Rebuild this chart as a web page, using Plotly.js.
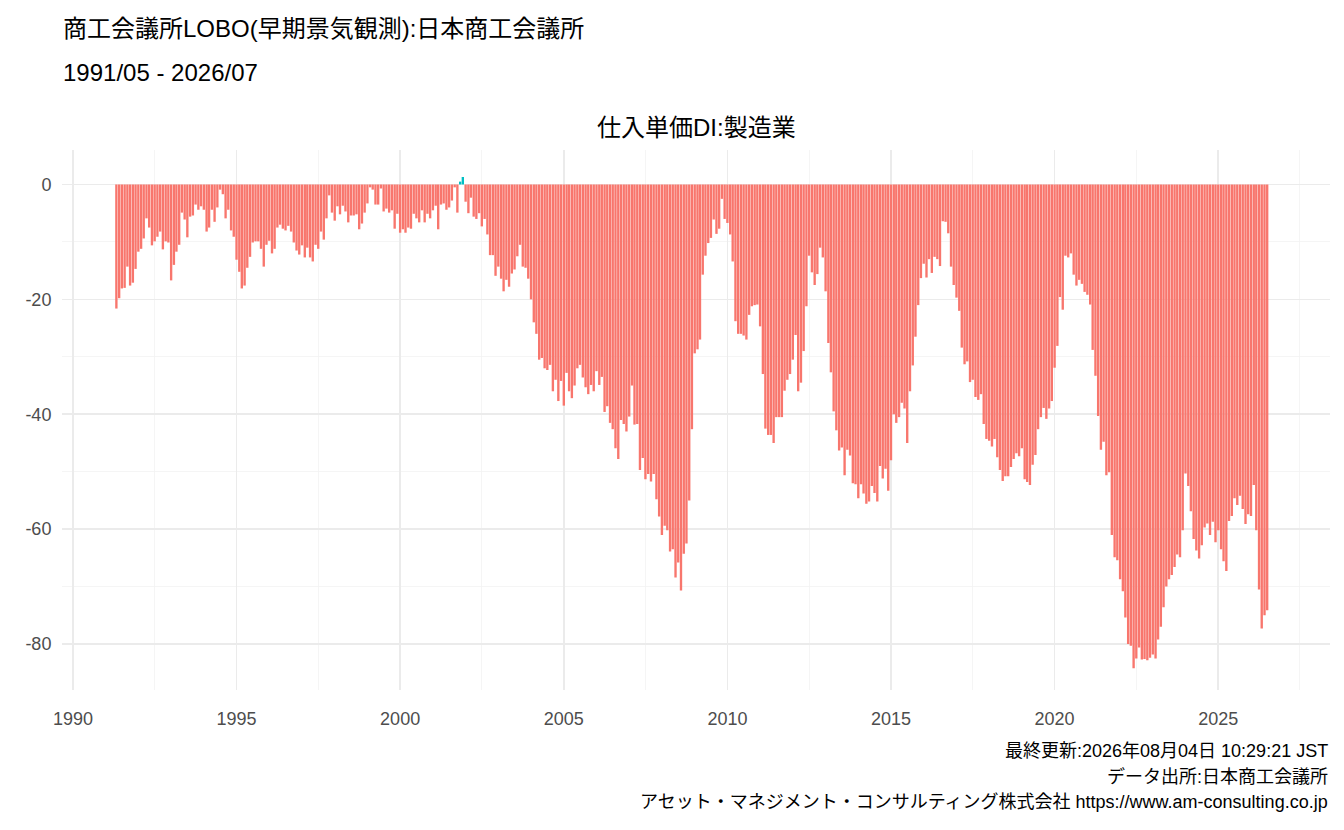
<!DOCTYPE html>
<html>
<head>
<meta charset="utf-8">
<script src="https://cdn.plot.ly/plotly-3.0.1.min.js"></script>
<style>body{margin:0;background:#fff}#chart{width:1344px;height:830px}</style>
</head>
<body>
<div id="chart"></div>
<script>
// 仕入単価DI:製造業, monthly from 1991/05
const startYear = 1991, startMonth = 5;

const di1991to2001 = [
  -21.6,-19.8,-18.1,-18,-14.3,-17.6,-17.1,-14.7,-11.7,-11.2,
  -9.4,-5.9,-7.5,-10.6,-9.9,-9.1,-8.2,-11.3,-9.9,-10.1,
  -16.7,-14,-11.7,-10.5,-4.9,-6.1,-9.2,-5.6,-5.4,-3.5,
  -4.4,-3.8,-4.4,-8.2,-7.5,-4.4,-6.5,-4,-0.9,-1.7,
  -5.9,-4.4,-8,-9.1,-13.1,-15.2,-18.1,-17.6,-14.5,-12.6,
  -10.1,-9.9,-9.9,-11.2,-14.3,-10.5,-9.8,-12,-11.2,-7.5,
  -7,-7.7,-8,-7.2,-8.2,-10.1,-11.5,-12.2,-10.6,-12.7,
  -11,-12.7,-13.4,-10.5,-11.2,-8.2,-9.6,-5.9,-1.9,-4.9,
  -6.3,-3.8,-5.2,-3.7,-4.7,-6.6,-5.4,-5.4,-5.2,-7.8,
  -6.8,-4.9,-3.3,-0.5,-0.9,-3.5,-3.5,-0.7,-4.7,-4.2,
  -4.9,-4.5,-7.7,-5.1,-8.4,-7.8,-8.4,-7.5,-7.7,-5.1,
  -5.9,-6.6,-4.5,-6.6,-5.1,-5.9,-4.5,-3.7,-7.8,-3.5,
  -3.3,-4.4,-4,-2.8,-0.5,-4.9,
  0.5,1.3
];

const di2002to2010 = [
  -3,-5,-2.3,-5.6,-6,-5,-7.3,-6,-8.7,-12.3,
  -12.3,-15.9,-14.3,-16.4,-18.6,-16.6,-17.8,-15.5,-14.8,-12.5,
  -10.5,-14.3,-14.5,-16.4,-20,-24,-26,-30.5,-30.2,-32,
  -32.3,-31.4,-36,-34,-37.7,-34.2,-38.5,-32.8,-36,-37.2,
  -35,-32,-31.4,-33.6,-35.3,-36.5,-34.9,-36,-32.5,-34.9,
  -33.5,-39.6,-38.6,-41.5,-42.6,-45.9,-47.8,-41,-41.7,-43,
  -40.4,-35,-41.8,-41.7,-49.7,-47.6,-51.3,-50.4,-51.7,-50.4,
  -54.8,-57.8,-61,-59.4,-60.2,-63.9,-63.5,-68.4,-65.8,-70.7,
  -64.3,-62.5,-55,-42.6,-29.4,-28.7,-27,-15.7,-12.4,-10.2,
  -9.3,-6.1,-8.6,-7.7,-2.5,-6,-6.7,-8.7,-13.4,-23.8,
  -26,-26,-26.3,-27,-22.7,-21.2,-21,-20.9
];

const di2011to2018 = [
  -24.7,-33,-42.5,-43.6,-43.6,-45,-40.5,-40.5,-40.5,-35.9,
  -34,-33,-30.5,-26.2,-36,-34.5,-29,-21.2,-12.4,-15.3,
  -17.5,-15.6,-11,-12.7,-18.6,-27.6,-32.7,-39.5,-42.8,-46.3,
  -45.8,-50.6,-46.2,-47.2,-52,-52.2,-54.6,-52.2,-53.8,-55.6,
  -55.2,-52.5,-53.7,-55.2,-49,-51.2,-49.5,-53.3,-48,-40,
  -41.5,-40.5,-38,-39,-45,-36,-31.5,-26.5,-21,-16.3,
  -13.8,-16.2,-13,-15.4,-12.6,-13,-14.2,-6.4,-6.5,-8.5,
  -14.3,-17.5,-19.7,-22,-28.4,-31.3,-30.8,-34.4,-34,-37,
  -37.5,-36.5,-41.7,-44.3,-44.6,-45.6,-44.3,-47.5
];

const di2018to2026 = [
  -49.7,-51.6,-50.8,-50.8,
  -49.2,-47.8,-46.8,-47.3,-45.9,-51.3,-51.8,-52.3,-48.8,-47.1,
  -42.6,-40.5,-38.9,-40.8,-39,-37.7,-31.9,-28.1,-19.6,-21.8,
  -12.4,-12.7,-12,-15.7,-17.6,-16.6,-17.3,-18.7,-19.2,-20.9,
  -28.8,-33.3,-40.3,-46.2,-44.8,-50.6,-50.1,-61,-64.9,-65.4,
  -68.7,-70.8,-75.4,-80,-80.3,-84.2,-82.5,-80.6,-82.7,-82.6,
  -82.8,-82.4,-81.8,-82.5,-79.2,-77,-73.6,-70,-68.7,-68,
  -66.6,-64.4,-64.9,-60.2,-50.3,-52.5,-56.9,-61.7,-63.7,-65.1,
  -62.8,-59.7,-59,-61,-58.7,-62.3,-60.2,-63.5,-65.6,-67.3,
  -58.6,-57.7,-54.6,-55.8,-54.2,-56.5,-59.1,-57.4,-57.7,-52.3,
  -60.2,-70.5,-77.3,-75,-74.1
];

const yTicks = [0, -20, -40, -60, -80];
const xTickYears = [1990, 1995, 2000, 2005, 2010, 2015, 2020, 2025];

const values = [].concat(di1991to2001, di2002to2010, di2011to2018, di2018to2026);
const dates = values.map((v, i) => {
  const m = startMonth - 1 + i;
  const y = startYear + Math.floor(m / 12);
  const mm = String(m % 12 + 1).padStart(2, '0');
  return `${y}-${mm}-01`;
});

const trace = {
  x: dates,
  y: values,
  type: 'bar',
  marker: { color: values.map(v => v >= 0 ? '#00BFC4' : '#F8766D') },
  hoverinfo: 'x+y'
};

const font = 'Liberation Sans, Noto Sans CJK JP, sans-serif';

function note(text, yPx, size, anchor) {
  // position in paper pixels from top of the figure
  return {
    text: text, xref: 'paper', yref: 'paper',
    x: anchor === 'left' ? -0.001 : 1, y: 1, yshift: 150 - yPx,
    showarrow: false, font: { size: size, color: '#000' },
    xanchor: anchor, yanchor: 'middle'
  };
}

const layout = {
  width: 1344,
  height: 830,
  paper_bgcolor: '#ffffff',
  plot_bgcolor: '#ffffff',
  font: { family: font, color: '#000' },
  showlegend: false,
  bargap: 0.06,
  margin: { t: 150, r: 14, l: 62, b: 140 },
  xaxis: {
    type: 'date',
    range: ['1989-09-01', '2028-06-01'],
    tickvals: xTickYears.map(y => `${y}-01-01`),
    ticktext: xTickYears.map(String),
    tickfont: { size: 18, color: '#4d4d4d' },
    showgrid: true, gridcolor: '#ebebeb', gridwidth: 1.6,
    minor: { dtick: 'M30', tick0: '1987-07-01', showgrid: true, gridcolor: '#f3f3f3', gridwidth: 0.8 },
    zeroline: false, showline: false, ticks: 'outside', ticklen: 12, tickcolor: 'rgba(0,0,0,0)'
  },
  yaxis: {
    range: [-88, 6],
    tickvals: yTicks,
    ticktext: yTicks.map(String),
    tickfont: { size: 18, color: '#4d4d4d' },
    showgrid: true, gridcolor: '#ebebeb', gridwidth: 1.6,
    minor: { dtick: 10, showgrid: true, gridcolor: '#f3f3f3', gridwidth: 0.8 },
    zeroline: false, showline: false, ticks: 'outside', ticklen: 6, tickcolor: 'rgba(0,0,0,0)'
  },
  annotations: [
    note('商工会議所LOBO(早期景気観測):日本商工会議所', 28, 24, 'left'),
    note('1991/05 - 2026/07', 72, 24, 'left'),
    { text: '仕入単価DI:製造業', xref: 'paper', yref: 'paper', x: 0.5, y: 1, yshift: 23,
      showarrow: false, font: { size: 24, color: '#000' }, xanchor: 'center', yanchor: 'middle' },
    note('最終更新:2026年08月04日 10:29:21 JST', 751, 18, 'right'),
    note('データ出所:日本商工会議所', 777, 18, 'right'),
    note('アセット・マネジメント・コンサルティング株式会社 https://www.am-consulting.co.jp', 802, 18, 'right')
  ]
};

Plotly.newPlot('chart', [trace], layout, { displayModeBar: false, staticPlot: true });
</script>
</body>
</html>
